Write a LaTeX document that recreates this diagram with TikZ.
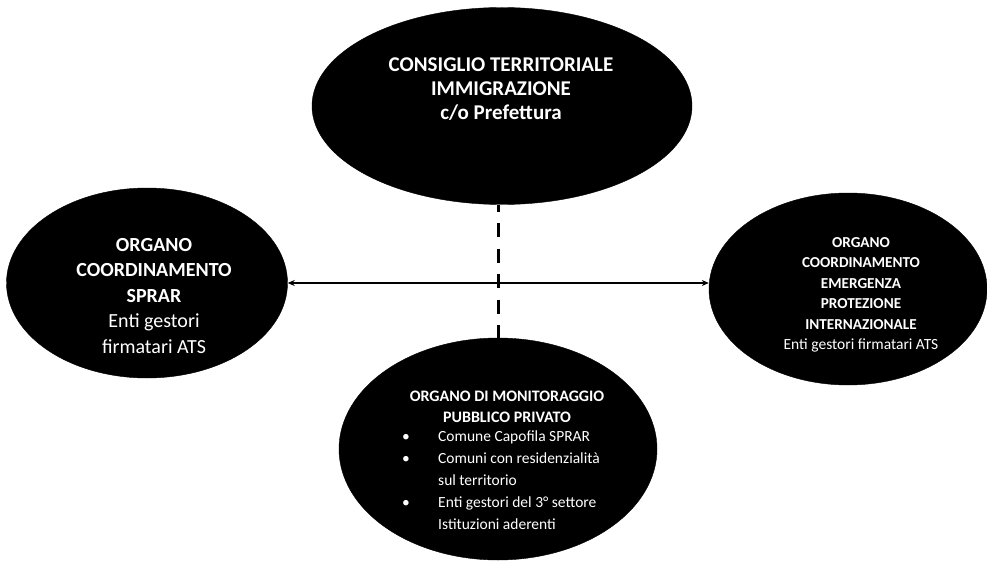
\documentclass[tikz,border=0pt]{standalone}
\usepackage{fontspec}
\setmainfont{Carlito}
\usetikzlibrary{shapes.geometric,arrows.meta}
\begin{document}
\begin{tikzpicture}[x=1pt,y=-1pt,
  blob/.style={ellipse,fill=black,draw=black,inner sep=0pt},
  wtxt/.style={text=white,align=center,inner sep=0pt},
  link/.style={line width=1.8pt,{Stealth[length=7pt,width=6pt]}-{Stealth[length=7pt,width=6pt]}},
  dashlink/.style={line width=3pt,dash pattern=on 14pt off 11.5pt,dash phase=7pt}]
\useasboundingbox (0,0) rectangle (987,567);
\node[blob,minimum width=380pt,minimum height=197pt] (top) at (502,106) {};
\node[blob,minimum width=281pt,minimum height=190pt] (left) at (147,283) {};
\node[blob,minimum width=278pt,minimum height=192pt] (right) at (848,289) {};
\node[blob,minimum width=318pt,minimum height=222pt] (bot) at (498,449) {};
% texts
\node[wtxt,font=\fontsize{21}{24}\selectfont\bfseries] (toptxt) at (501,89)
  {CONSIGLIO TERRITORIALE\\IMMIGRAZIONE\\c/o Prefettura};
\node[wtxt,font=\fontsize{20}{25.5}\selectfont] (lefttxt) at (154,296)
  {\textbf{ORGANO}\\\textbf{COORDINAMENTO}\\\textbf{SPRAR}\\Enti gestori\\firmatari ATS};
\node[wtxt,font=\fontsize{15.2}{20.5}\selectfont] (righttxt) at (861,295)
  {\textbf{ORGANO}\\\textbf{COORDINAMENTO}\\\textbf{EMERGENZA}\\\textbf{PROTEZIONE}\\\textbf{INTERNAZIONALE}\\{\fontsize{15.5}{20.5}\selectfont Enti gestori firmatari ATS}};
\node[wtxt,font=\fontsize{16}{20.5}\selectfont\bfseries] (bothead) at (507,407)
  {ORGANO DI MONITORAGGIO\\PUBBLICO PRIVATO};
\node[wtxt,anchor=north west,align=left,font=\fontsize{15.5}{20.5}\selectfont] (botlist) at (402,426)
  {\renewcommand{\arraystretch}{1.07}%
   \begin{tabular}{@{}p{36pt}@{}l@{}}
   \textbullet & Comune Capofila SPRAR\\
   \textbullet & Comuni con residenzialità\\
               & sul territorio\\
   \textbullet & Enti gestori del 3° settore\\
               & Istituzioni aderenti
   \end{tabular}};
% connectors
\draw[link] (left.east) -- (left.east -| right.west);
\draw[dashlink] (bot.north |- top.south) -- (bot.north);
\end{tikzpicture}
\end{document}
